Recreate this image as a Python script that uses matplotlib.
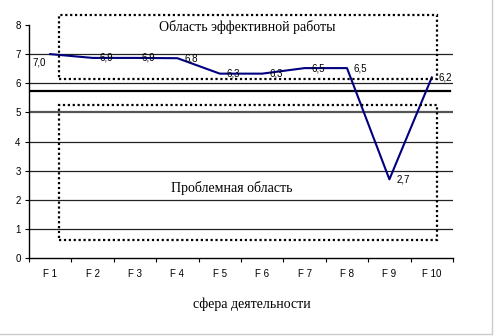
import matplotlib
matplotlib.use("Agg")
import matplotlib.pyplot as plt
from matplotlib.patches import Rectangle
from matplotlib.lines import Line2D

categories = ["F 1", "F 2", "F 3", "F 4", "F 5", "F 6", "F 7", "F 8", "F 9", "F 10"]
values = [7.0, 6.87, 6.87, 6.86, 6.33, 6.33, 6.52, 6.52, 2.7, 6.2]
labels = ["7,0", "6,9", "6,9", "6,8", "6,3", "6,3", "6,5", "6,5", "2,7", "6,2"]
threshold = 5.75

fig = plt.figure(figsize=(4.94, 3.36), dpi=100)
ax = fig.add_axes([29/494, 1-258/336, (453-29)/494, (258-25)/336])

x = list(range(len(categories)))
ax.set_xlim(-0.5, len(categories)-0.5)
ax.set_ylim(0, 8)

for g in range(1, 8):
    ax.axhline(g, color="#555555" if g == 5 else "#222222", lw=1.6 if g == 5 else 0.9, zorder=1)
ax.axhline(threshold, color="black", lw=1.6, xmax=0.993, zorder=1)

ax.plot(x, values, color="#000080", lw=1.5, zorder=3)

for i, (v, lab) in enumerate(zip(values, labels)):
    if i == 0:
        ax.annotate(lab, (i, v), xytext=(-3, -6), textcoords="offset points",
                    ha="right", va="center", fontsize=7, family="Liberation Sans")
    else:
        ax.annotate(lab, (i, v), xytext=(5, 0), textcoords="offset points",
                    ha="left", va="center", fontsize=7, family="Liberation Sans")

ax.set_xticks([i - 0.5 for i in range(len(categories) + 1)])
ax.set_xticklabels([])
ax.set_xticks(x, minor=True)
ax.set_xticklabels(categories, minor=True, fontsize=7, family="Liberation Sans")
ax.tick_params(axis="x", which="minor", length=0, pad=8)
ax.tick_params(axis="x", which="major", length=3, direction="out")
ax.set_yticks(range(0, 9))
ax.tick_params(axis="y", length=3, labelsize=7, pad=3)
for t in ax.get_yticklabels():
    t.set_family("Liberation Sans")

for s in ["top", "right"]:
    ax.spines[s].set_visible(False)
ax.spines["left"].set_linewidth(1.0)
ax.spines["bottom"].set_linewidth(1.0)

fig.text(252/494, 1-304/336, "сфера деятельности", ha="center", va="center",
         family="Liberation Serif", fontsize=10)

# dotted zones (figure pixel coordinates)
def fig_rect(x0, y0, x1, y1):
    r = Rectangle((x0/494, 1-y1/336), (x1-x0)/494, (y1-y0)/336, transform=fig.transFigure,
                  fill=False, ls=(0, (1, 1.2)), lw=1.6, ec="black", zorder=5)
    fig.add_artist(r)

fig_rect(59, 15, 437, 79)
fig_rect(59, 105, 437, 240)

fig.text(247/494, 1-27/336, "Область эффективной работы", ha="center", va="center",
         family="Liberation Serif", fontsize=10)
fig.text(232/494, 1-188/336, "Проблемная область", ha="center", va="center",
         family="Liberation Serif", fontsize=10)

fig.add_artist(Line2D([492/494, 492/494], [1-334/336, 1], transform=fig.transFigure, color="#cccccc", lw=1))
fig.add_artist(Line2D([0, 492/494], [1-334/336, 1-334/336], transform=fig.transFigure, color="#cccccc", lw=1))

fig.savefig("out.png", dpi=100)
